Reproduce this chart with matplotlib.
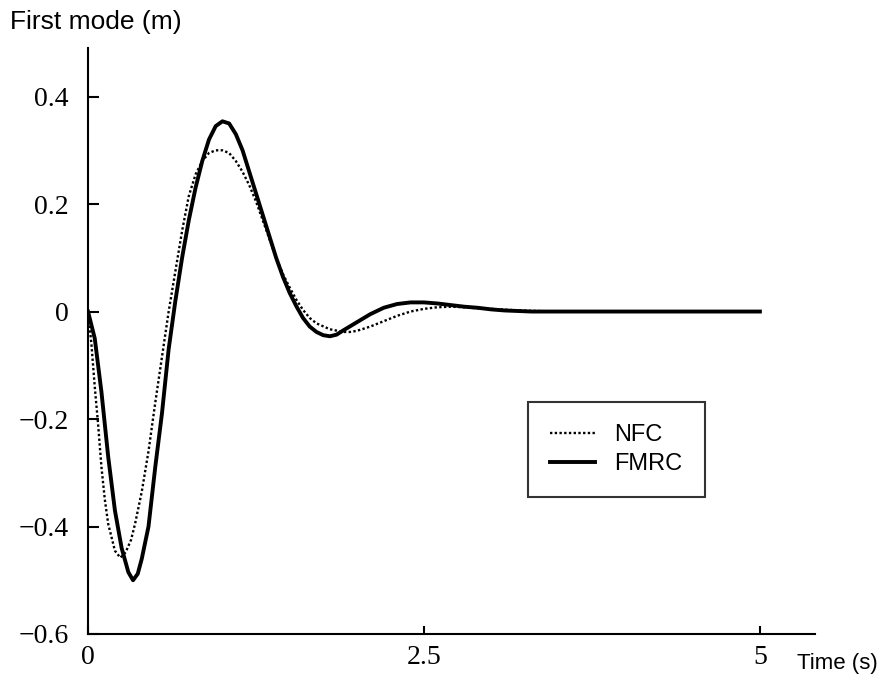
import matplotlib
matplotlib.use("Agg")
import matplotlib.pyplot as plt
from matplotlib.ticker import FixedLocator, FixedFormatter

# FMRC (solid)
t_fmrc = [0, 0.05, 0.1, 0.15, 0.2, 0.25, 0.3, 0.335, 0.37, 0.4, 0.45, 0.5, 0.55, 0.6,
          0.65, 0.7, 0.75, 0.8, 0.85, 0.9, 0.95, 1.0, 1.05, 1.1, 1.15, 1.2, 1.25, 1.3,
          1.35, 1.4, 1.45, 1.5, 1.55, 1.6, 1.65, 1.7, 1.75, 1.8, 1.85, 1.9, 2.0, 2.1,
          2.2, 2.3, 2.4, 2.5, 2.6, 2.7, 2.8, 2.9, 3.0, 3.1, 3.3, 4.0, 5.0]
v_fmrc = [0, -0.05, -0.15, -0.27, -0.37, -0.44, -0.485, -0.50, -0.488, -0.46, -0.40,
          -0.29, -0.19, -0.07, 0.02, 0.10, 0.17, 0.23, 0.28, 0.32, 0.345, 0.354, 0.35,
          0.33, 0.30, 0.26, 0.22, 0.18, 0.14, 0.10, 0.065, 0.035, 0.01, -0.012, -0.028,
          -0.038, -0.044, -0.046, -0.043, -0.035, -0.02, -0.005, 0.007, 0.014, 0.017,
          0.017, 0.015, 0.012, 0.009, 0.007, 0.004, 0.002, 0.0, 0.0, 0.0]

# NFC (dotted)
t_nfc = [0, 0.025, 0.05, 0.075, 0.1, 0.125, 0.15, 0.2, 0.24, 0.28, 0.32, 0.35, 0.4,
         0.45, 0.5, 0.55, 0.6, 0.65, 0.7, 0.75, 0.8, 0.85, 0.9, 0.95, 1.0, 1.05, 1.1,
         1.15, 1.2, 1.25, 1.3, 1.35, 1.4, 1.45, 1.5, 1.55, 1.6, 1.65, 1.7, 1.8, 1.9,
         1.95, 2.0, 2.1, 2.2, 2.3, 2.4, 2.5, 2.6, 2.7, 2.8, 2.9, 3.0, 3.2, 3.5, 5.0]
v_nfc = [0, -0.06, -0.14, -0.21, -0.29, -0.35, -0.395, -0.445, -0.458, -0.448, -0.425,
         -0.395, -0.335, -0.26, -0.17, -0.085, 0.0, 0.075, 0.15, 0.215, 0.255, 0.28,
         0.295, 0.30, 0.30, 0.295, 0.28, 0.26, 0.235, 0.205, 0.17, 0.135, 0.10, 0.07,
         0.045, 0.022, 0.003, -0.012, -0.022, -0.033, -0.038, -0.038, -0.036, -0.028,
         -0.018, -0.008, 0.0, 0.005, 0.008, 0.009, 0.008, 0.006, 0.005, 0.002, 0.0, 0.0]

x_ticks = [0, 2.5, 5]
x_labels = ["0", "2.5", "5"]
y_ticks = [-0.6, -0.4, -0.2, 0, 0.2, 0.4]
y_labels = ["\u22120.6", "\u22120.4", "\u22120.2", "0", "0.2", "0.4"]

fig = plt.figure(figsize=(8.91, 6.79), dpi=100)
ax = fig.add_axes([0.0988, 0.0663, 0.8159, 0.8627])

ax.plot(t_nfc, v_nfc, color="black", lw=1.7, linestyle=(0, (1, 1.0)), label="NFC")
ax.plot(t_fmrc, v_fmrc, color="black", lw=2.8, label="FMRC")

ax.set_xlim(0, 5.41)
ax.set_ylim(-0.6, 0.49)
for s in ["top", "right"]:
    ax.spines[s].set_visible(False)
for s in ["left", "bottom"]:
    ax.spines[s].set_linewidth(1.5)

ax.xaxis.set_major_locator(FixedLocator(x_ticks))
ax.xaxis.set_major_formatter(FixedFormatter(x_labels))
ax.yaxis.set_major_locator(FixedLocator(y_ticks))
ax.yaxis.set_major_formatter(FixedFormatter(y_labels))
ax.tick_params(axis="both", direction="in", width=1.5, labelsize=20)
ax.tick_params(axis="y", length=8, pad=14)
ax.tick_params(axis="x", length=6, pad=8)
for lab in ax.get_xticklabels() + ax.get_yticklabels():
    lab.set_fontfamily("Liberation Serif")

fig.text(10 / 891, 1 - 22 / 679, "First mode (m)", fontsize=19,
         family="Liberation Sans", ha="left", va="center")
fig.text(797 / 891, 1 - 663 / 679, "Time (s)", fontsize=16,
         family="Liberation Sans", ha="left", va="center")

leg = ax.legend(loc="upper left", bbox_to_anchor=(0.605, 0.396), frameon=True,
                fancybox=False, edgecolor="black",
                prop={"family": "Liberation Sans", "size": 17},
                handlelength=1.9, borderpad=0.95, labelspacing=0.28,
                handletextpad=0.8, borderaxespad=0)
leg.get_frame().set_linewidth(1.5)

fig.savefig("out.png", dpi=100)
